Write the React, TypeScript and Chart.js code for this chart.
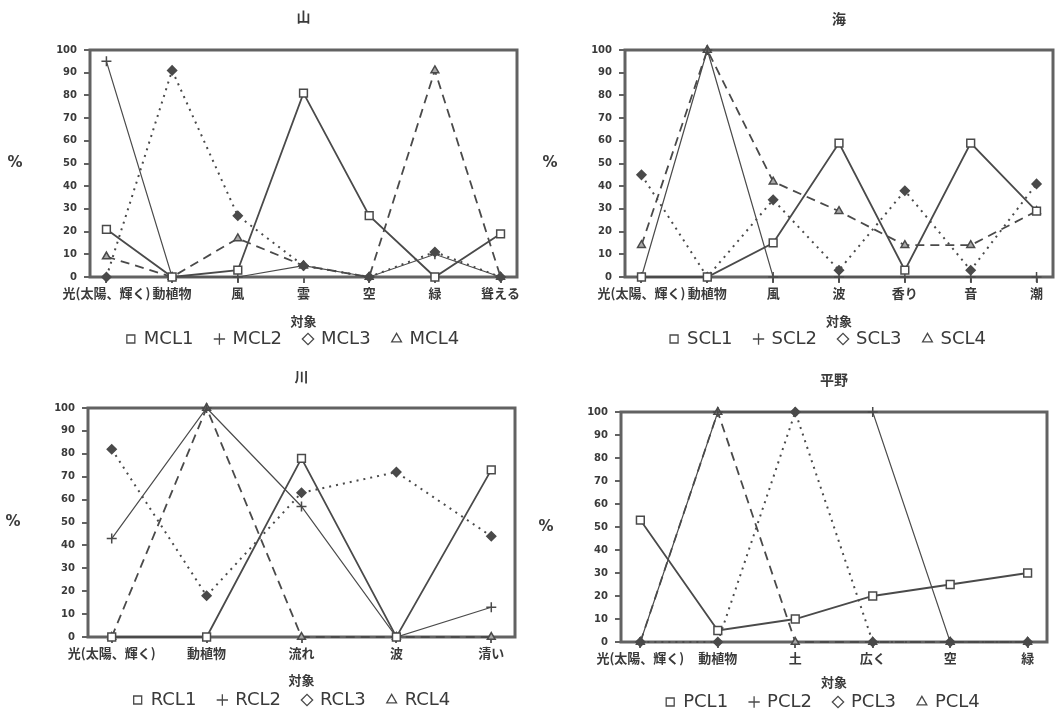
import { useEffect, useRef } from 'react';
import { Chart, registerables } from 'chart.js';

Chart.register(...registerables);

// ---------- data ----------
const mountainCategories = ['光(太陽、輝く)', '動植物', '風', '雲', '空', '緑', '聳える'];
const MCL1 = [21, 0, 3, 81, 27, 0, 19];
const MCL2 = [95, 0, 0, 5, 0, 10, 0];
const MCL3 = [0, 91, 27, 5, 0, 11, 0];
const MCL4 = [9, 0, 17, 5, 0, 91, 0];

const seaCategories = ['光(太陽、輝く)', '動植物', '風', '波', '香り', '音', '潮'];
const SCL1 = [0, 0, 15, 59, 3, 59, 29];
const SCL2 = [0, 100, 0, 0, 0, 0, 0];
const SCL3 = [45, 0, 34, 3, 38, 3, 41];
const SCL4 = [14, 100, 42, 29, 14, 14, 29];

const riverCategories = ['光(太陽、輝く)', '動植物', '流れ', '波', '清い'];
const RCL1 = [0, 0, 78, 0, 73];
const RCL2 = [43, 100, 57, 0, 13];
const RCL3 = [82, 18, 63, 72, 44];
const RCL4 = [0, 100, 0, 0, 0];

const plainCategories = ['光(太陽、輝く)', '動植物', '土', '広く', '空', '緑'];
const PCL1 = [53, 5, 10, 20, 25, 30];
const PCL2 = [0, 100, 100, 100, 0, 0];
const PCL3 = [0, 0, 100, 0, 0, 0];
const PCL4 = [0, 100, 0, 0, 0, 0];

const yTicks = [0, 10, 20, 30, 40, 50, 60, 70, 80, 90, 100];
const xAxisTitle = '対象';
const yAxisUnit = '%';

// ---------- styles ----------
const INK = '#4a4a4a';
const FRAME = '#626262';
const TEXT = '#3a3a3a';

const seriesStyles = [
  { pointStyle: 'rect', borderWidth: 1.8, borderDash: [] as number[], pointRadius: 5.5, pointBg: '#ffffff' },
  { pointStyle: 'cross', borderWidth: 1.2, borderDash: [] as number[], pointRadius: 5, pointBg: '#ffffff' },
  { pointStyle: 'rectRot', borderWidth: 2, borderDash: [2, 5], pointRadius: 4.5, pointBg: INK },
  { pointStyle: 'triangle', borderWidth: 1.8, borderDash: [9, 6], pointRadius: 4.5, pointBg: '#a8a8a8' },
];

type Spec = {
  title: string;
  categories: string[];
  series: { label: string; values: number[] }[];
  box: { left: number; top: number; width: number; height: number };
  pad: { left: number; right: number; bottom: number };
  titlePad: { top: number; bottom: number };
  yWidth: number;
  xHeight: number;
  xTitlePad: number;
  legendDx: number;
};

const specs: Spec[] = [
  {
    title: '山',
    categories: mountainCategories,
    series: [
      { label: 'MCL1', values: MCL1 },
      { label: 'MCL2', values: MCL2 },
      { label: 'MCL3', values: MCL3 },
      { label: 'MCL4', values: MCL4 },
    ],
    box: { left: 0, top: 0, width: 531, height: 357 },
    pad: { left: 50, right: 14, bottom: -1 },
    titlePad: { top: 8.6, bottom: 24.6 },
    yWidth: 40,
    xHeight: 31,
    xTitlePad: -20.8,
    legendDx: -10.5,
  },
  {
    title: '海',
    categories: seaCategories,
    series: [
      { label: 'SCL1', values: SCL1 },
      { label: 'SCL2', values: SCL2 },
      { label: 'SCL3', values: SCL3 },
      { label: 'SCL4', values: SCL4 },
    ],
    box: { left: 531, top: 0, width: 531, height: 357 },
    pad: { left: 54, right: 9, bottom: -1 },
    titlePad: { top: 10.6, bottom: 22.6 },
    yWidth: 40,
    xHeight: 31,
    xTitlePad: -20.8,
    legendDx: -11,
  },
  {
    title: '川',
    categories: riverCategories,
    series: [
      { label: 'RCL1', values: RCL1 },
      { label: 'RCL2', values: RCL2 },
      { label: 'RCL3', values: RCL3 },
      { label: 'RCL4', values: RCL4 },
    ],
    box: { left: 0, top: 357, width: 531, height: 358 },
    pad: { left: 48, right: 16, bottom: -4 },
    titlePad: { top: 11.6, bottom: 22.6 },
    yWidth: 40,
    xHeight: 32,
    xTitlePad: -18.8,
    legendDx: -9.5,
  },
  {
    title: '平野',
    categories: plainCategories,
    series: [
      { label: 'PCL1', values: PCL1 },
      { label: 'PCL2', values: PCL2 },
      { label: 'PCL3', values: PCL3 },
      { label: 'PCL4', values: PCL4 },
    ],
    box: { left: 531, top: 357, width: 531, height: 358 },
    pad: { left: 50, right: 15, bottom: -6 },
    titlePad: { top: 14.6, bottom: 23.6 },
    yWidth: 40,
    xHeight: 29,
    xTitlePad: -18.8,
    legendDx: -11,
  },
];

const framePlugin = {
  id: 'frame',
  beforeDatasetsDraw(chart: any) {
    const { ctx, chartArea: a } = chart;
    ctx.save();
    ctx.strokeStyle = FRAME;
    ctx.lineWidth = 3;
    ctx.setLineDash([]);
    ctx.strokeRect(a.left, a.top, a.right - a.left, a.bottom - a.top);
    ctx.restore();
  },
};

const unitPlugin = {
  id: 'yUnit',
  afterDraw(chart: any) {
    const { ctx, chartArea: a } = chart;
    ctx.save();
    ctx.font = 'bold 15px "DejaVu Sans"';
    ctx.fillStyle = TEXT;
    ctx.textAlign = 'center';
    ctx.textBaseline = 'middle';
    ctx.fillText(yAxisUnit, a.left - 75, (a.top + a.bottom) / 2);
    ctx.restore();
  },
};

const legendShiftPlugin = {
  id: 'legendShift',
  afterLayout(chart: any, _args: any, opts: any) {
    const lg = chart.legend;
    if (!lg || !opts || !opts.dx) return;
    lg.left += opts.dx;
    lg.right += opts.dx;
  },
};

function LineChart({ spec }: { spec: Spec }) {
  const ref = useRef<HTMLCanvasElement | null>(null);
  useEffect(() => {
    if (!ref.current) return;
    const cats = spec.categories;
    const chart = new Chart(ref.current, {
      type: 'line',
      data: {
        datasets: spec.series.map((s, i) => {
          const st = seriesStyles[i];
          return {
            label: s.label,
            data: s.values.map((v, k) => ({ x: k, y: v })),
            borderColor: INK,
            backgroundColor: st.pointBg,
            borderWidth: st.borderWidth,
            borderDash: st.borderDash,
            pointStyle: st.pointStyle as any,
            pointRadius: st.pointRadius,
            pointBorderWidth: 1.5,
            pointBorderColor: INK,
            pointBackgroundColor: st.pointBg,
            tension: 0,
            clip: false as any,
          };
        }),
      },
      options: {
        animation: false,
        responsive: true,
        maintainAspectRatio: false,
        events: [],
        layout: { padding: { left: spec.pad.left, right: spec.pad.right, top: 0, bottom: spec.pad.bottom } },
        scales: {
          x: {
            type: 'linear',
            min: -0.25,
            max: cats.length - 0.75,
            afterBuildTicks: (scale: any) => {
              scale.ticks = cats.map((_, i) => ({ value: i }));
            },
            afterFit: (scale: any) => {
              scale.height = spec.xHeight;
            },
            ticks: {
              autoSkip: false,
              maxRotation: 0,
              minRotation: 0,
              padding: 2,
              color: TEXT,
              font: { family: '"Noto Sans CJK JP"', size: 13, weight: 'bold' },
              callback: (value: any) => cats[Math.round(Number(value))] ?? '',
            },
            grid: { drawOnChartArea: false, drawTicks: true, tickLength: 6, color: FRAME, lineWidth: 2 },
            border: { display: false },
            title: {
              display: true,
              text: xAxisTitle,
              color: TEXT,
              font: { family: '"Noto Sans CJK JP"', size: 13, weight: 'bold' },
              padding: { top: 0, bottom: spec.xTitlePad },
            },
          },
          y: {
            type: 'linear',
            min: 0,
            max: 100,
            afterBuildTicks: (scale: any) => {
              scale.ticks = yTicks.map((v) => ({ value: v }));
            },
            afterFit: (scale: any) => {
              scale.width = spec.yWidth;
            },
            ticks: {
              padding: 7,
              color: TEXT,
              font: { family: '"DejaVu Sans"', size: 10, weight: 'bold' },
            },
            grid: { drawOnChartArea: false, drawTicks: true, tickLength: 6, color: FRAME, lineWidth: 2 },
            border: { display: false },
          },
        },
        plugins: {
          title: {
            display: true,
            text: spec.title,
            fullSize: false,
            color: TEXT,
            font: { family: '"Noto Sans CJK JP"', size: 14, weight: 'bold' },
            padding: { top: spec.titlePad.top, bottom: spec.titlePad.bottom },
          },
          legend: {
            display: true,
            position: 'bottom',
            fullSize: false,
            labels: {
              usePointStyle: true,
              boxWidth: 8,
              boxHeight: 8,
              padding: 22,
              color: TEXT,
              font: { family: '"DejaVu Sans"', size: 18 },
              generateLabels: (c: any) => {
                const items = (Chart.defaults.plugins.legend.labels as any).generateLabels(c);
                return items.map((it: any) => ({
                  ...it,
                  fillStyle: '#ffffff',
                  lineDash: [],
                  lineWidth: 1.3,
                  strokeStyle: INK,
                }));
              },
            },
          },
          legendShift: { dx: spec.legendDx },
          tooltip: { enabled: false },
        },
      } as any,
      plugins: [framePlugin, unitPlugin, legendShiftPlugin],
    });
    return () => chart.destroy();
  }, [spec]);

  return (
    <div
      style={{
        position: 'absolute',
        left: spec.box.left,
        top: spec.box.top,
        width: spec.box.width,
        height: spec.box.height,
      }}
    >
      <canvas ref={ref} />
    </div>
  );
}

export default function App() {
  return (
    <div style={{ position: 'absolute', left: 0, top: 0, width: 1062, height: 715, background: '#ffffff', overflow: 'hidden' }}>
      {specs.map((s) => (
        <LineChart key={s.title} spec={s} />
      ))}
    </div>
  );
}
